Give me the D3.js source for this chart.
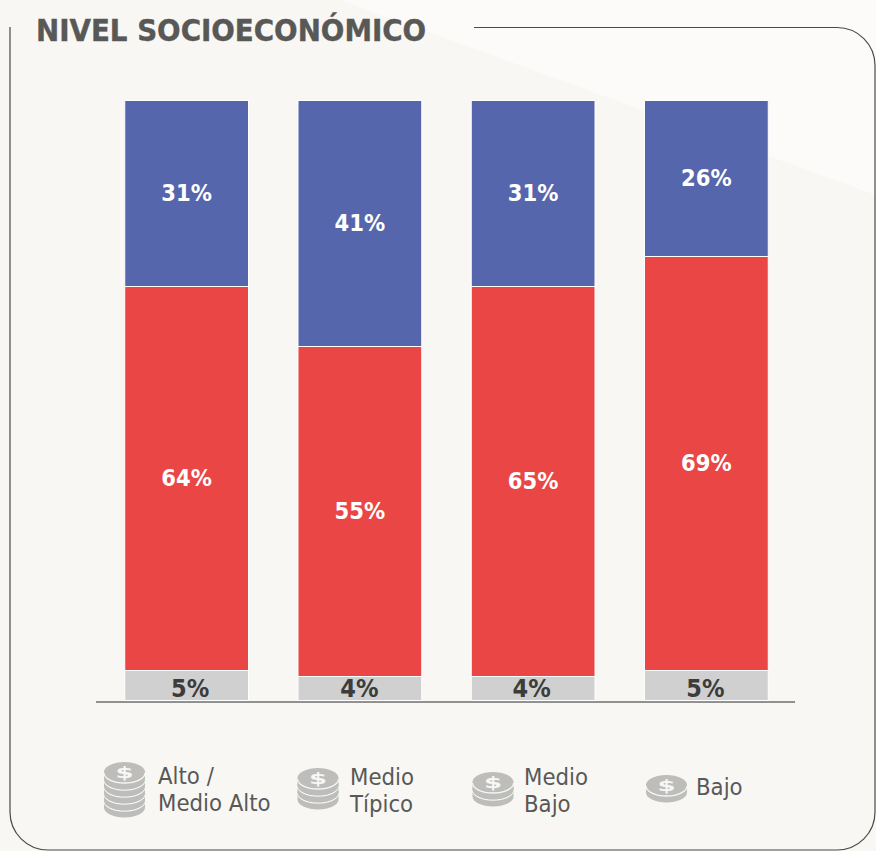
<!DOCTYPE html>
<html>
<head>
<meta charset="utf-8">
<script src="https://cdn.jsdelivr.net/npm/d3@7"></script>
<style>
  html, body { margin: 0; padding: 0; background: #f8f7f3; }
  svg { display: block; }
  text { font-family: "DejaVu Sans Condensed", "DejaVu Sans", sans-serif; }
</style>
</head>
<body>
<div id="chart"></div>
<script>
var groups = ["Alto / Medio Alto", "Medio Típico", "Medio Bajo", "Bajo"];
var keys = ["bajo", "medio", "alto"];
var bajo = [5, 4, 4, 5];
var medio = [64, 55, 65, 69];
var alto = [31, 41, 31, 26];
var legendLines = [["Alto /", "Medio Alto"], ["Medio", "Típico"], ["Medio", "Bajo"], ["Bajo"]];
var coinCounts = [5, 3, 2, 1];

function init() {
  var w = 876;
  var h = 851;

  var rows = groups.map(function(g, i) {
    return { group: g, bajo: bajo[i], medio: medio[i], alto: alto[i] };
  });

  var svg = d3.select("#chart").append("svg")
    .attr("width", w)
    .attr("height", h);

  // lighter corner behind the card
  svg.append("path")
    .attr("d", "M340,0L876,0L876,195Z")
    .attr("fill", "#fcfbf9");

  // card outline, open at the top left where the title sits
  svg.append("path")
    .attr("d", "M474,27.5L837,27.5A38,38 0 0 1 875,65.5L875,812A38,38 0 0 1 837,850L48,850A38,38 0 0 1 10,812L10,27")
    .attr("fill", "none")
    .attr("stroke", "#4a4a4a")
    .attr("stroke-width", 1.2);

  svg.append("text")
    .attr("x", 36)
    .attr("y", 41)
    .attr("font-size", 30.8)
    .attr("font-weight", "bold")
    .attr("fill", "#585857")
    .attr("stroke", "#585857")
    .attr("stroke-width", 0.4)
    .text("NIVEL SOCIOECONÓMICO");

  var x = d3.scaleBand()
    .domain(groups)
    .range([100, 793])
    .paddingInner(0.2857)
    .paddingOuter(0.1428);

  var y = d3.scaleLinear()
    .domain([0, 100])
    .range([700.5, 100.5]);

  var color = d3.scaleOrdinal()
    .domain(keys)
    .range(["#d0d0d0", "#e94645", "#5666ac"]);

  var labelColor = d3.scaleOrdinal()
    .domain(keys)
    .range(["#3c3c3b", "#fff", "#fff"]);

  var stacked = d3.stack().keys(keys)(rows);

  var layers = svg.selectAll("g.layer")
    .data(stacked)
    .enter()
    .append("g")
    .attr("class", "layer");

  layers.selectAll("rect")
    .data(function(d) { return d; })
    .enter()
    .append("rect")
    .attr("x", function(d) { return x(d.data.group); })
    .attr("y", function(d) { return y(d[1]); })
    .attr("width", x.bandwidth())
    .attr("height", function(d) { return y(d[0]) - y(d[1]); })
    .attr("fill", function(d) { return color(d3.select(this.parentNode).datum().key); })
    .attr("stroke", "#fff")
    .attr("stroke-width", 1);

  // the grey labels are not quite centred in the original
  var greyNudge = [3.5, -0.5, -1.5, -1];

  layers.selectAll("text")
    .data(function(d) {
      return d.map(function(s, i) { return { key: d.key, s: s, i: i }; });
    })
    .enter()
    .append("text")
    .attr("x", function(d) {
      var cx = x(d.s.data.group) + x.bandwidth() / 2;
      return d.key === "bajo" ? cx + greyNudge[d.i] : cx;
    })
    .attr("y", function(d) {
      // grey labels sit low in their short segment
      if (d.key === "bajo") return y(2);
      return (y(d.s[0]) + y(d.s[1])) / 2;
    })
    .attr("dy", "0.33em")
    .attr("text-anchor", "middle")
    .attr("font-size", function(d) { return d.key === "bajo" ? 25 : 23.5; })
    .attr("font-weight", "bold")
    .attr("fill", function(d) { return labelColor(d.key); })
    .text(function(d) { return (d.s[1] - d.s[0]) + "%"; });

  svg.append("line")
    .attr("x1", 96)
    .attr("x2", 795)
    .attr("y1", 702)
    .attr("y2", 702)
    .attr("stroke", "#6f6f6e")
    .attr("stroke-width", 1.5);

  // legend: coin stacks and labels
  var legendX = [124.5, 318, 493, 666.5];
  var legendTextX = [158, 350, 524, 696];
  var legendTop = [772, 778, 782, 785];
  var legendTextY = [775, 776, 776, 786];

  groups.forEach(function(g, i) {
    var icon = svg.append("g")
      .attr("transform", "translate(" + legendX[i] + "," + legendTop[i] + ")");

    // lower coins first, the top coin last
    d3.range(coinCounts[i] - 1, -1, -1).forEach(function(k) {
      var cy = k * 7;
      icon.append("path")
        .attr("d", "M-20.5," + cy + "L-20.5," + (cy + 7.5) +
          "A20.5,10 0 0 0 20.5," + (cy + 7.5) +
          "L20.5," + cy + "Z")
        .attr("fill", "#bdbdbc");
      icon.append("path")
        .attr("d", "M-20.5," + cy + "A20.5,10 0 0 1 20.5," + cy +
          "A20.5,10 0 0 1 -20.5," + cy + "Z")
        .attr("fill", "#bdbdbc");
      icon.append("path")
        .attr("d", "M-20.5," + (cy + 1) + "A20.5,10 0 0 0 20.5," + (cy + 1))
        .attr("fill", "none")
        .attr("stroke", "#f8f7f3")
        .attr("stroke-width", 1.3);
    });

    icon.append("text")
      .attr("transform", "translate(0,6) scale(1.7,0.95)")
      .attr("text-anchor", "middle")
      .attr("font-size", 17)
      .attr("font-weight", "bold")
      .attr("fill", "#f8f7f3")
      .text("$");

    var lines = legendLines[i];
    lines.forEach(function(line, j) {
      svg.append("text")
        .attr("x", legendTextX[i])
        .attr("y", legendTextY[i] + j * 27)
        .attr("dy", "0.36em")
        .attr("font-size", 23.7)
        .attr("fill", "#585857")
        .text(line);
    });
  });
}

window.onload = init;
</script>
</body>
</html>
